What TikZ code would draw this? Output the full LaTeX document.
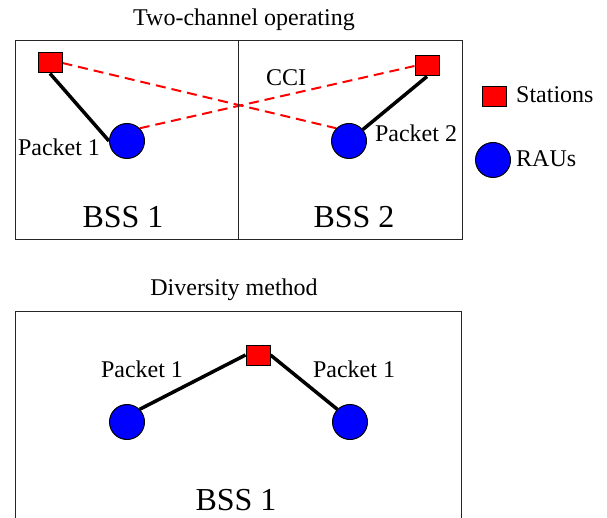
\documentclass[tikz,border=0pt]{standalone}
\usepackage{fontspec}
\setmainfont{Liberation Serif}
\usetikzlibrary{backgrounds}
\tikzset{
  station/.style={rectangle, draw=black, line width=1pt, fill=red, minimum width=24pt, minimum height=20pt, inner sep=0pt},
  rau/.style={circle, draw=black, line width=1pt, fill=blue, minimum size=35pt, inner sep=0pt},
  lbl/.style={font=\fontsize{24}{26}\selectfont, anchor=base, inner sep=0pt},
  big/.style={font=\fontsize{32}{34}\selectfont, anchor=base, inner sep=0pt},
  link/.style={line width=3.5pt, black},
  cci/.style={line width=2pt, red, dash pattern=on 10pt off 6pt},
  frame/.style={line width=1pt, black!85}
}
\begin{document}
\begin{tikzpicture}[x=1pt, y=-1pt]
\useasboundingbox (0,0) rectangle (607,518);
% frames
\draw[frame] (15,41) rectangle (462,240);
\draw[frame] (238,41) -- (238,240);
\draw[frame] (15,522) -- (15,311) -- (461,311) -- (461,522);
% titles
\node[lbl] (t1) at (244,26) {Two-channel operating};
\node[lbl] (t2) at (234,295) {Diversity method};
% top nodes
\node[station] (s1) at (50,63) {};
\node[station] (s2) at (427,66) {};
\node[rau] (r1) at (127,141) {};
\node[rau] (r2) at (349,141) {};
% legend
\node[station] (ls) at (494,97) {};
\node[rau] (lr) at (493,160) {};
\node[lbl, anchor=base west] (lst) at (516,103) {Stations};
\node[lbl, anchor=base west] (lrt) at (516,167) {RAUs};
% labels top
\node[lbl] (cci) at (286,86) {CCI};
\node[lbl] (p1) at (59,156) {Packet 1};
\node[lbl] (p2) at (416,142) {Packet 2};
\node[big] (b1) at (123,228) {BSS 1};
\node[big] (b2) at (354,228) {BSS 2};
% bottom nodes
\node[station] (s3) at (258,355) {};
\node[rau] (r3) at (127,422) {};
\node[rau] (r4) at (350,422) {};
\node[lbl] (p3) at (142,377) {Packet 1};
\node[lbl] (p4) at (354,377) {Packet 1};
\node[big] (b3) at (236,510) {BSS 1};
% connectors
\begin{scope}[on background layer]
\draw[link] (s1.south) -- (r1.west);
\draw[link] (s2.south) -- (r2);
\draw[cci] (s1.east) -- (r2.135);
\draw[cci] (r1.45) -- (s2.west);
\draw[link] (s3.west) -- (r3.45);
\draw[link] (s3.east) -- (r4.135);
\end{scope}
\end{tikzpicture}
\end{document}
